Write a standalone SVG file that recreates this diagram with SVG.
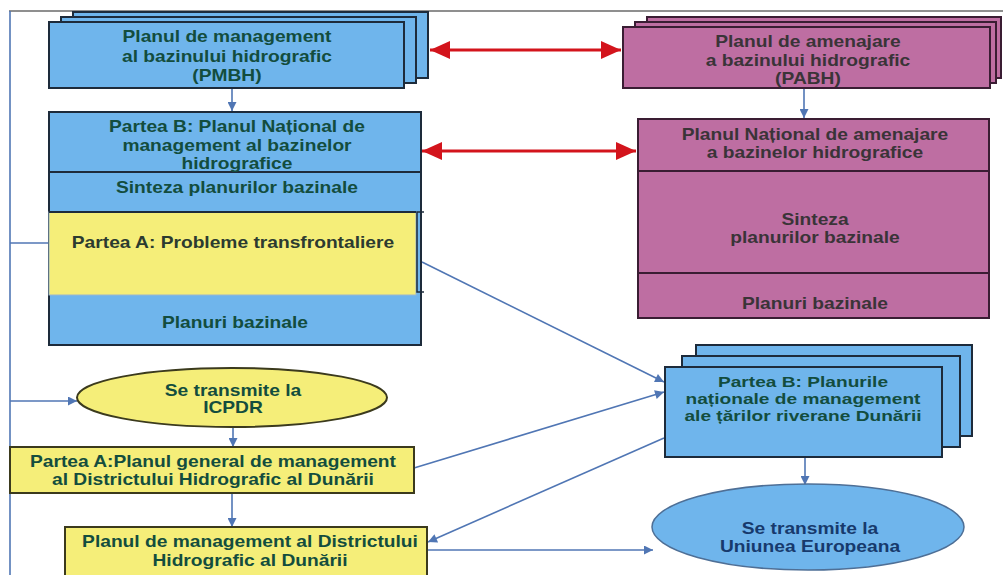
<svg xmlns="http://www.w3.org/2000/svg" width="1003" height="575" viewBox="0 0 1003 575">
  <style>
    text { font-family: "Liberation Sans", Arial, sans-serif; font-weight: bold; font-size: 16px; text-anchor: middle; dominant-baseline: central; transform-box: fill-box; transform-origin: center; transform: scaleX(1.2); }
    text.tight { font-size: 14.5px; transform: scaleX(1.32); }
    .blue { fill: #6fb5ec; stroke: #1d2b3b; stroke-width: 2; }
    .mag { fill: #be6ea2; stroke: #3a1d33; stroke-width: 2; }
    .yel { fill: #f5ee79; stroke: #3b3a1d; stroke-width: 2; }
    .yelin { fill: #f5ee79; stroke: #9bb7cf; stroke-width: 1; }
    .div { stroke: #1d2b3b; stroke-width: 2; fill: none; }
    .mdiv { stroke: #3a1d33; stroke-width: 2; fill: none; }
    .tb { fill: #134d3e; }
    .tm { fill: #3a3438; }
    .ty { fill: #2c3b30; }
    .te { fill: #173a6d; }
    .link { stroke: #5076b4; stroke-width: 1.6; fill: none; }
    .arrow { stroke: #5076b4; stroke-width: 1.6; fill: none; marker-end: url(#ah); }
    .red { stroke: #d3141c; stroke-width: 3; fill: none; marker-start: url(#rh); marker-end: url(#rh); }
  </style>
  <defs>
    <marker id="ah" viewBox="0 0 10 10" refX="10" refY="5" markerWidth="10" markerHeight="9" markerUnits="userSpaceOnUse" orient="auto">
      <path d="M0,0 L10,5 L0,10 Z" fill="#5076b4"/>
    </marker>
    <marker id="rh" viewBox="0 0 20 18" refX="20" refY="9" markerWidth="20" markerHeight="18" markerUnits="userSpaceOnUse" orient="auto-start-reverse">
      <path d="M0,0 L20,9 L0,18 Z" fill="#d3141c"/>
    </marker>
  </defs>

  <rect width="1003" height="575" fill="#ffffff"/>

  <!-- outer frame -->
  <path d="M9,11 H1003" stroke="#6a6a6a" stroke-width="1.5" fill="none"/>

  <!-- connectors -->
  <g id="connectors">
    <path class="link" d="M10,11 V575" stroke="#44608a"/>
    <path class="link" d="M10,243 H49"/>
    <path class="arrow" d="M10,401 H77"/>
    <path class="arrow" d="M232,88 V111"/>
    <path class="arrow" d="M804,88 V118"/>
    <path class="red" d="M430,50 H621"/>
    <path class="red" d="M422,151 H636"/>
    <path class="arrow" d="M422,262 L664,382"/>
    <path class="arrow" d="M414,468 L664,392"/>
    <path class="arrow" d="M664,438 L428,542"/>
    <path class="arrow" d="M233,427 V447"/>
    <path class="arrow" d="M232,493 V527"/>
    <path class="arrow" d="M427,550 H653"/>
    <path class="arrow" d="M805,457 V485"/>
  </g>

  <!-- Planul de management al bazinului hidrografic -->
  <g id="pmbh">
    <rect class="blue" x="73" y="12" width="355" height="66"/>
    <rect class="blue" x="61" y="17" width="355" height="66"/>
    <rect class="blue" x="49" y="22" width="355" height="66"/>
    <text class="tb" x="227"><tspan x="227" y="37">Planul de management</tspan><tspan x="227" y="57">al bazinului hidrografic</tspan><tspan x="227" y="76">(PMBH)</tspan></text>
  </g>

  <!-- Planul de amenajare a bazinului hidrografic -->
  <g id="pabh">
    <rect class="mag" x="647" y="17" width="354" height="61"/>
    <rect class="mag" x="635" y="22" width="361" height="61"/>
    <rect class="mag" x="623" y="27" width="367" height="61"/>
    <text class="tm" x="808"><tspan x="808" y="42">Planul de amenajare</tspan><tspan x="808" y="61">a bazinului hidrografic</tspan><tspan x="808" y="79">(PABH)</tspan></text>
  </g>

  <!-- Partea B: Planul National de management -->
  <g id="planul-national-management">
    <rect class="blue" x="49" y="112" width="372" height="233"/>
    <path class="div" d="M49,172 H421"/>
    <rect class="yelin" x="49" y="212" width="367" height="83"/>
    <path class="div" d="M49,212 H416" stroke-width="1" stroke="#5b86b5"/>
    <path d="M424,212 H417 V292 H424" stroke="#1d2b3b" stroke-width="1.5" fill="none"/>
    <text class="tb" x="237"><tspan x="237" y="127">Partea B: Planul Național de</tspan><tspan x="237" y="146">management al bazinelor</tspan><tspan x="237" y="164">hidrografice</tspan></text>
    <text class="tb" x="237" y="188">Sinteza planurilor bazinale</text>
    <text class="ty" x="233" y="243">Partea A: Probleme transfrontaliere</text>
    <text class="tb" x="235" y="323">Planuri bazinale</text>
  </g>

  <!-- Planul National de amenajare -->
  <g id="planul-national-amenajare">
    <rect class="mag" x="638" y="119" width="351" height="199"/>
    <path class="mdiv" d="M638,171 H989"/>
    <path class="mdiv" d="M638,273 H989"/>
    <text class="tm" x="815"><tspan x="815" y="135">Planul Național de amenajare</tspan><tspan x="815" y="153">a bazinelor hidrografice</tspan></text>
    <text class="tm" x="815"><tspan x="815" y="220">Sinteza</tspan><tspan x="815" y="238">planurilor bazinale</tspan></text>
    <text class="tm" x="815" y="304">Planuri bazinale</text>
  </g>

  <!-- Se transmite la ICPDR -->
  <g id="icpdr">
    <ellipse cx="232" cy="397.5" rx="155" ry="29.5" fill="#f5ee79" stroke="#3b3a1d" stroke-width="2"/>
    <text class="tb" x="233"><tspan x="233" y="391">Se transmite la</tspan><tspan x="233" y="408">ICPDR</tspan></text>
  </g>

  <!-- Partea B: Planurile nationale ale tarilor riverane -->
  <g id="planurile-nationale">
    <rect class="blue" x="696" y="345" width="276" height="91"/>
    <rect class="blue" x="682" y="356" width="278" height="91"/>
    <rect class="blue" x="665" y="367" width="277" height="90"/>
    <text class="tb tight" x="803"><tspan x="803" y="382">Partea B: Planurile</tspan><tspan x="803" y="399">naționale de management</tspan><tspan x="803" y="416">ale țărilor riverane Dunării</tspan></text>
  </g>

  <!-- Partea A: Planul general de management -->
  <g id="planul-general">
    <rect class="yel" x="10" y="447" width="404" height="46"/>
    <text class="tb" x="213"><tspan x="213" y="462">Partea A:Planul general de management</tspan><tspan x="213" y="480">al Districtului Hidrografic al Dunării</tspan></text>
  </g>

  <!-- Planul de management al Districtului Hidrografic al Dunarii -->
  <g id="planul-districtului">
    <rect class="yel" x="65" y="527" width="362" height="60"/>
    <text class="tb" x="250"><tspan x="250" y="542">Planul de management al Districtului</tspan><tspan x="250" y="561">Hidrografic al Dunării</tspan></text>
  </g>

  <!-- Se transmite la Uniunea Europeana -->
  <g id="uniunea-europeana">
    <ellipse cx="808" cy="527" rx="156" ry="43" fill="#6fb5ec" stroke="#4e6f96" stroke-width="1.5"/>
    <text class="te" x="810"><tspan x="810" y="529">Se transmite la</tspan><tspan x="810" y="547">Uniunea Europeana</tspan></text>
  </g>
</svg>
